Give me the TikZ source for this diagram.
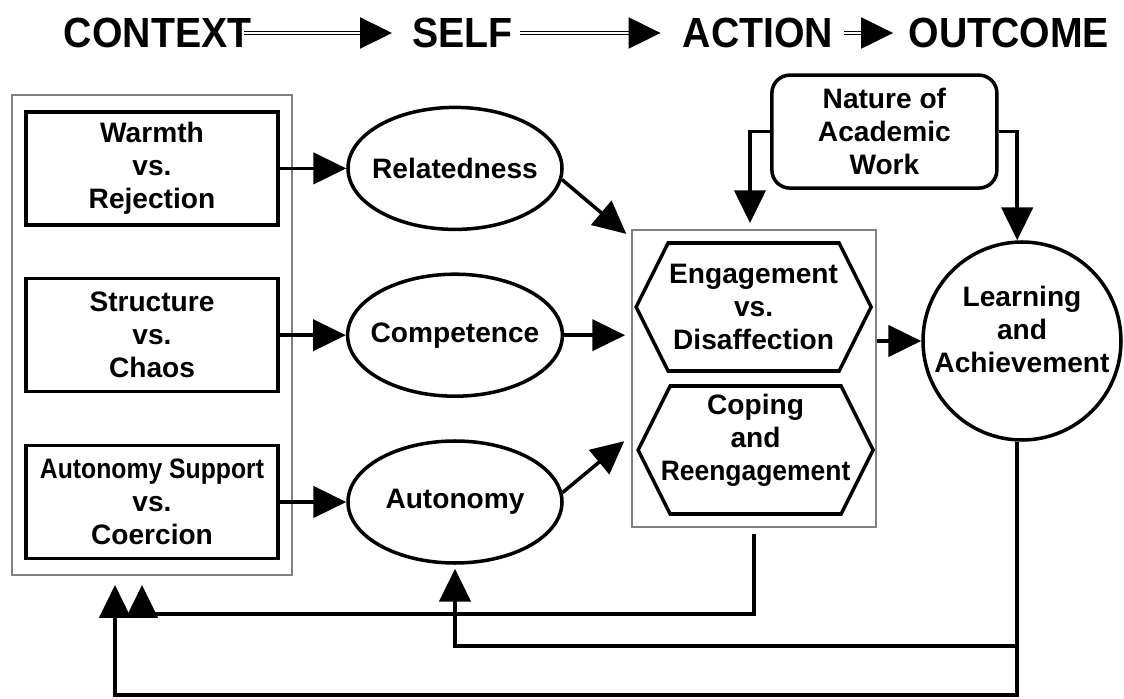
\documentclass[tikz,border=0pt]{standalone}
\usepackage{fontspec}
\setmainfont{Liberation Sans}
\newfontfamily\hdrfont[FakeStretch=0.93]{Liberation Sans}
\usepackage{graphicx}
\usetikzlibrary{arrows.meta,shapes.geometric,positioning,calc,fit}

\begin{document}
\begin{tikzpicture}[
    lbl/.style={font=\fontsize{20}{23.5}\selectfont\bfseries, align=center},
    hdr/.style={font=\hdrfont\bfseries\fontsize{30}{36}\selectfont, inner sep=0pt},
    ctxbox/.style={lbl, draw, line width=2.5pt, inner xsep=2pt, minimum width=6.3cm, minimum height=2.825cm},
    need/.style={lbl, draw, ellipse, line width=2.5pt, inner xsep=-6pt, inner ysep=0pt, minimum width=5.35cm, minimum height=3.05cm},
    hexbox/.style={lbl, minimum width=5.875cm, minimum height=3.2cm, outer sep=0pt},
    hexline/.style={line width=2.5pt, line join=miter},
    frame/.style={draw=gray, line width=1.3pt},
    arr/.style={line width=2.5pt, -{Triangle[length=0.82cm,width=0.78cm]}},
    hdrarr/.style={double, line width=1.1pt, double distance=1.3pt, -{Triangle[length=0.8cm,width=0.78cm]}}
]
    \useasboundingbox (0,0) rectangle (28.1,17.45);

    % Header row
    \node[hdr] (ctx) at (3.94,16.625) {CONTEXT};
    \node[hdr] (self) at (11.56,16.625) {SELF};
    \node[hdr] (action) at (18.95,16.625) {ACTION};
    \node[hdr] (outcome) at (25.22,16.625) {OUTCOME};
    \draw[hdrarr, shorten <=-0.18cm, shorten >=0.5cm] (ctx) -- (self);
    \draw[hdrarr, shorten <=0.18cm, shorten >=0.55cm] (self) -- (action);
    \draw[hdrarr, shorten <=0.27cm, shorten >=0.38cm] (action) -- (outcome);

    % Context boxes
    \node[ctxbox] (warmth) at (3.8,13.24) {Warmth\\vs.\\Rejection};
    \node[ctxbox] (structure) at (3.8,9.07) {Structure\\vs.\\Chaos};
    \node[ctxbox] (autsup) at (3.8,4.9) {\scalebox{0.88}[1]{Autonomy Support}\\vs.\\Coercion};
    \node[frame, fit=(warmth)(autsup), inner xsep=0.3cm, inner ysep=0.37cm] (ctxframe) {};

    % Self needs
    \node[need] (related) at (11.375,13.24) {Relatedness};
    \node[need] (compet) at (11.375,9.07) {Competence};
    \node[need] (auton) at (11.375,4.9) {Autonomy};

    % Action
    \node[frame, minimum width=6.1cm, minimum height=7.425cm] (actbox) at (18.85,7.9875) {};
    \node[hexbox] (engage) at (18.84,9.775) {Engagement\\vs.\\Disaffection};
    \node[hexbox, text depth=18.5pt] (coping) at (18.89,6.2) {Coping\\and\\\scalebox{0.94}[1]{Reengagement}};
    \foreach \n in {engage,coping}
        \draw[hexline] ($(\n.north west)+(0.8,0)$) -- ($(\n.north east)+(-0.8,0)$) -- (\n.east)
            -- ($(\n.south east)+(-0.8,0)$) -- ($(\n.south west)+(0.8,0)$) -- (\n.west) -- cycle;

    % Outcome
    \node[lbl, draw, line width=2.5pt, rounded corners=0.45cm, minimum width=5.625cm, minimum height=2.825cm] (nature) at (22.11,14.16) {Nature of\\Academic\\Work};
    \node[lbl, draw, circle, line width=2.5pt, inner sep=-4pt, text depth=16pt, minimum size=4.95cm] (learn) at (25.55,8.925) {Learning\\and\\Achievement};

    % Forward arrows
    \draw[arr] (warmth) -- (related);
    \draw[arr] (structure) -- (compet);
    \draw[arr] (autsup) -- (auton);
    \draw[arr] (related.-6) -- ($(actbox.north west)+(-0.12,-0.12)$);
    \draw[arr, shorten >=0.15cm] (compet.east) -- (compet.east -| actbox.west);
    \draw[arr] (auton.5) -- ($(actbox.west |- coping.west)+(-0.17,0.22)$);
    \draw[arr] (learn.west -| actbox.east) -- (learn.west);
    \draw[arr, shorten >=0.15cm] (nature.west) -| ($(actbox.north)+(-0.1,0)$);
    \draw[arr] (nature.east) -| ($(learn.north)+(-0.12,0)$);

    % Feedback loops
    \coordinate (fbA) at (3.55,2.825);
    \coordinate (fbB) at (2.875,2.825);
    \coordinate (fbtop) at (0,2.1);
    \coordinate (fbmid) at (0,1.3);
    \coordinate (fbbot) at (0,0.075);
    \coordinate (actdown) at ($(actbox.south)+(0,-0.15)$);
    \coordinate (learndown) at ($(learn.south)+(-0.12,0)$);
    \draw[arr] (actdown) |- (fbA |- fbtop) -- (fbA);
    \draw[arr] (learndown) |- (fbB |- fbbot) -- (fbB);
    \draw[arr, shorten >=0.1cm] (learndown |- fbmid) -| (auton.south);
\end{tikzpicture}
\end{document}
